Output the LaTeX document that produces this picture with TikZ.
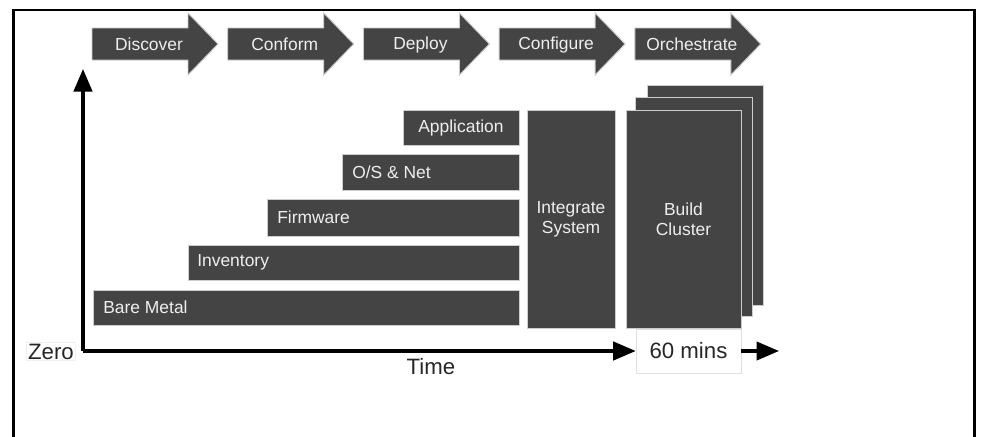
\documentclass[tikz,border=0pt]{standalone}
\usepackage{fontspec}
\setmainfont{Liberation Sans}
\usetikzlibrary{arrows.meta}
\definecolor{boxgray}{RGB}{68,68,68}
\definecolor{edgegray}{RGB}{205,205,205}
\definecolor{textgray}{RGB}{238,238,238}
\tikzset{
  dark/.style={draw=edgegray, line width=0.7pt, fill=boxgray},
  lbl/.style={text=textgray, font=\fontsize{12.4}{14.5}\selectfont, inner sep=0pt},
  big/.style={font=\fontsize{15.8}{18}\selectfont, text=black!85},
  axis/.style={line width=2.4pt, -{Triangle[length=16pt,width=13pt]}}
}

\begin{document}
\begin{tikzpicture}[x=0.025cm, y=-0.025cm]
  \useasboundingbox (0,0) rectangle (982,436);
  % frame
  \draw[line width=1.8pt] (13.5,438) -- (13.5,10) -- (974.5,10) -- (974.5,438);

  % stages
  \foreach \name[count=\n from 0] in {Discover,Conform,Deploy,Configure,Orchestrate}{
    \pgfmathsetmacro{\x}{92+135.7*\n}
    \draw[dark] (\x,28) -- ++(96,0) -- ++(0,-15) -- ++(30,31) -- ++(-30,31) -- ++(0,-15) -- ++(-96,0) -- cycle;
    \node[lbl] (stage\n) at (\x+57,44.5) {\name};
  }

  % layers
  \draw[dark] (93,290) rectangle (519,325);
  \node[lbl, anchor=west] (metal) at (103,307.5) {Bare Metal};
  \draw[dark] (188,245) rectangle (519,280);
  \node[lbl, anchor=west] (inv) at (197,262.5) {Inventory};
  \draw[dark] (267,199) rectangle (519,236);
  \node[lbl, anchor=west] (fw) at (277,217.5) {Firmware};
  \draw[dark] (342,154) rectangle (519,190);
  \node[lbl, anchor=west] (os) at (352,172) {O/S \& Net};
  \draw[dark] (403,110) rectangle (519,145);
  \node[lbl] (app) at (461,127.5) {Application};

  % integrate and cluster
  \draw[dark] (527,110) rectangle (615,328);
  \node[lbl, align=center] (integ) at (571,219) {Integrate\\System};
  \draw[dark] (647,85) rectangle (763,305);
  \draw[dark] (635,97) rectangle (752,316);
  \draw[dark] (626,110) rectangle (741,328);
  \node[lbl, align=center] (clus) at (683.5,219) {Build\\Cluster};

  % time axis
  \node[big, draw=gray!25, line width=0.4pt, minimum width=105*0.025cm, minimum height=44*0.025cm] (mins) at (688.5,351) {60 mins};
  \node[big, draw=gray!12, line width=0.4pt, inner sep=1pt] (zero) at (51,351.5) {Zero};
  \node[big, inner sep=1pt] (time) at (431,367) {Time};
  \coordinate (top) at (83,69);
  \coordinate (corner) at (83,351);
  \coordinate (far) at (779,351);
  \draw[axis, line join=miter] (corner) -- (top);
  \draw[axis] (corner) -- (mins.west);
  \draw[axis] (mins.east) -- (far);
\end{tikzpicture}
\end{document}
